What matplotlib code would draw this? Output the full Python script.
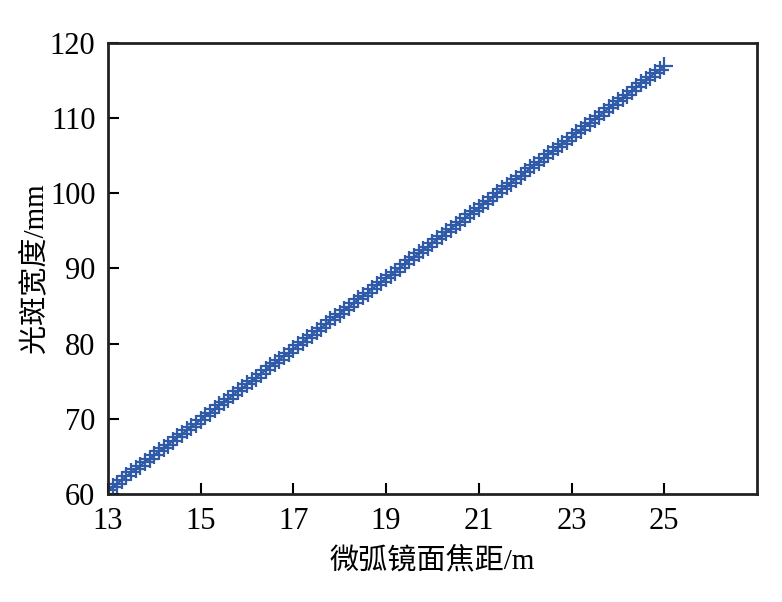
import numpy as np
import matplotlib.pyplot as plt

plt.rcParams['font.family'] = ['Liberation Serif', 'Noto Sans CJK SC']
plt.rcParams['mathtext.fontset'] = 'stix'

# focal length of the micro-arc mirror (m)
focal = [13.0, 13.1, 13.2, 13.3, 13.4, 13.5, 13.6, 13.7, 13.8, 13.9,
         14.0, 14.1, 14.2, 14.3, 14.4, 14.5, 14.6, 14.7, 14.8, 14.9,
         15.0, 15.1, 15.2, 15.3, 15.4, 15.5, 15.6, 15.7, 15.8, 15.9,
         16.0, 16.1, 16.2, 16.3, 16.4, 16.5, 16.6, 16.7, 16.8, 16.9,
         17.0, 17.1, 17.2, 17.3, 17.4, 17.5, 17.6, 17.7, 17.8, 17.9,
         18.0, 18.1, 18.2, 18.3, 18.4, 18.5, 18.6, 18.7, 18.8, 18.9,
         19.0, 19.1, 19.2, 19.3, 19.4, 19.5, 19.6, 19.7, 19.8, 19.9,
         20.0, 20.1, 20.2, 20.3, 20.4, 20.5, 20.6, 20.7, 20.8, 20.9,
         21.0, 21.1, 21.2, 21.3, 21.4, 21.5, 21.6, 21.7, 21.8, 21.9,
         22.0, 22.1, 22.2, 22.3, 22.4, 22.5, 22.6, 22.7, 22.8, 22.9,
         23.0, 23.1, 23.2, 23.3, 23.4, 23.5, 23.6, 23.7, 23.8, 23.9,
         24.0, 24.1, 24.2, 24.3, 24.4, 24.5, 24.6, 24.7, 24.8, 24.9,
         25.0]
# spot width (mm)
width = [60.5, 61.0, 61.4, 61.9, 62.4, 62.9, 63.3, 63.8, 64.3, 64.7,
         65.2, 65.7, 66.1, 66.6, 67.1, 67.6, 68.0, 68.5, 69.0, 69.4,
         69.9, 70.4, 70.8, 71.3, 71.8, 72.3, 72.7, 73.2, 73.7, 74.1,
         74.6, 75.1, 75.5, 76.0, 76.5, 77.0, 77.4, 77.9, 78.4, 78.8,
         79.3, 79.8, 80.2, 80.7, 81.2, 81.7, 82.1, 82.6, 83.1, 83.5,
         84.0, 84.5, 84.9, 85.4, 85.9, 86.4, 86.8, 87.3, 87.8, 88.2,
         88.7, 89.2, 89.6, 90.1, 90.6, 91.1, 91.5, 92.0, 92.5, 92.9,
         93.4, 93.9, 94.3, 94.8, 95.3, 95.8, 96.2, 96.7, 97.2, 97.6,
         98.1, 98.6, 99.0, 99.5, 100.0, 100.5, 100.9, 101.4, 101.9, 102.3,
         102.8, 103.3, 103.7, 104.2, 104.7, 105.2, 105.6, 106.1, 106.6, 107.0,
         107.5, 108.0, 108.4, 108.9, 109.4, 109.9, 110.3, 110.8, 111.3, 111.7,
         112.2, 112.7, 113.1, 113.6, 114.1, 114.6, 115.0, 115.5, 116.0, 116.4,
         116.9]

xticks = [13, 15, 17, 19, 21, 23, 25]
yticks = [60, 70, 80, 90, 100, 110, 120]

fig = plt.figure(figsize=(7.82, 6.02), dpi=100)
ax = fig.add_axes([0.138, 0.179, 0.83, 0.75])
ax.plot(focal, width, color='#2f5aa8', marker='+', markersize=13,
        markeredgewidth=1.6, linewidth=1.5)
ax.set_xlim(13, 27)
ax.set_ylim(60, 120)
ax.set_xticks(xticks)
ax.set_yticks(yticks)
ax.tick_params(direction='in', length=8, width=1.5, labelsize=22, pad=9,
               top=False, right=False)
for s in ax.spines.values():
    s.set_linewidth(2.0)
    s.set_color('#222222')
ax.set_xlabel('微弧镜面焦距/m', fontsize=21, labelpad=8)
ax.set_ylabel('光斑宽度/mm', fontsize=21, labelpad=1)
fig.savefig('out.png', dpi=100)
